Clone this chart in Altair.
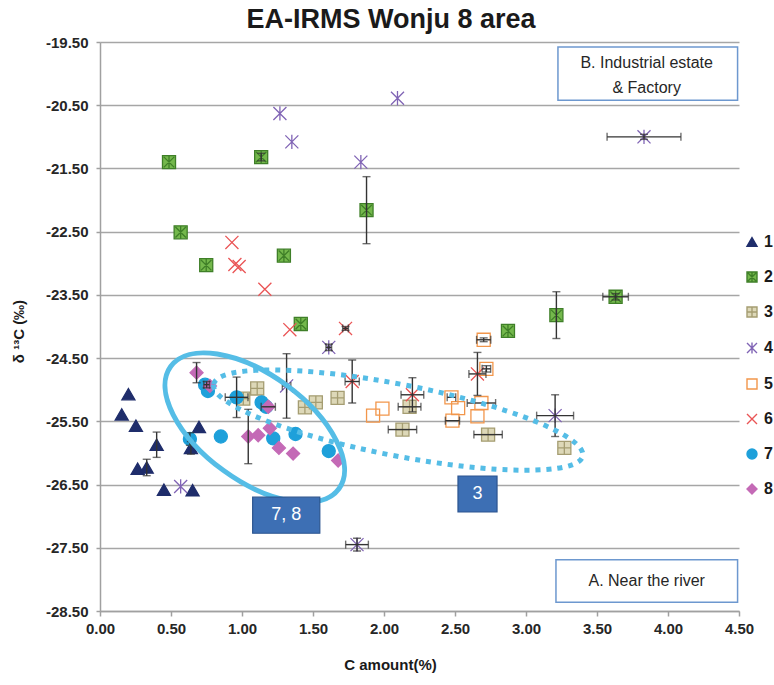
import altair as alt
import pandas as pd

# ---- measured series: C amount (%) vs delta 13C (permil) ----
s1_x = [0.20, 0.153, 0.253, 0.399, 0.265, 0.329, 0.45, 0.652, 0.697, 0.64]
s1_y = [-25.07, -25.39, -25.57, -25.87, -26.25, -26.23, -26.58, -26.59, -25.59, -25.92]
s2_x = [0.486, 1.135, 0.568, 0.748, 1.295, 1.877, 1.414, 2.873, 3.214, 3.631]
s2_y = [-21.40, -21.32, -22.51, -23.03, -22.88, -22.16, -23.96, -24.07, -23.82, -23.53]
s3_x = [1.009, 1.107, 1.443, 1.52, 1.673, 2.13, 2.18, 2.733, 3.27]
s3_y = [-25.14, -24.98, -25.28, -25.20, -25.13, -25.63, -25.27, -25.71, -25.92]
s4_x = [1.267, 1.351, 1.837, 2.095, 3.831, 3.205, 1.81, 0.568, 1.611, 1.314]
s4_y = [-20.63, -21.08, -21.40, -20.39, -21.00, -25.41, -27.45, -26.53, -24.33, -24.94]
s5_x = [2.702, 2.721, 2.475, 2.522, 2.482, 2.686, 2.658, 1.923, 1.989]
s5_y = [-24.21, -24.67, -25.12, -25.29, -25.49, -25.21, -25.42, -25.41, -25.30]
s6_x = [0.929, 0.95, 0.98, 1.161, 1.337, 1.729, 1.776, 2.20, 2.658]
s6_y = [-22.67, -23.02, -23.05, -23.41, -24.05, -24.03, -24.87, -25.08, -24.75]
s7_x = [0.633, 0.74, 0.76, 0.851, 0.962, 1.138, 1.17, 1.22, 1.377, 1.611]
s7_y = [-25.78, -24.92, -25.02, -25.74, -25.12, -25.20, -25.27, -25.77, -25.70, -25.97]
s8_x = [0.68, 0.774, 1.044, 1.114, 1.185, 1.196, 1.26, 1.36, 1.677]
s8_y = [-24.73, -24.94, -25.74, -25.72, -25.27, -25.61, -25.92, -26.01, -26.12]

series_names = ["1", "2", "3", "4", "5", "6", "7", "8"]

# ---- error bars (half widths) ----
err_x = [1.877, 3.214, 3.631, 1.135, 3.831, 3.205, 1.81, 1.314, 1.611, 1.776,
         2.20, 2.658, 1.729, 2.702, 2.721, 2.475, 2.482, 2.13, 2.733, 2.18,
         0.399, 0.329, 0.64, 0.962, 1.044, 1.185, 0.633, 0.68, 0.751, 2.686]
err_y = [-22.16, -23.82, -23.53, -21.32, -21.00, -25.41, -27.45, -24.94, -24.33, -24.87,
         -25.08, -24.75, -24.03, -24.21, -24.67, -25.12, -25.49, -25.63, -25.71, -25.27,
         -25.87, -26.23, -25.92, -25.12, -25.74, -25.27, -25.78, -24.73, -24.92, -25.21]
err_dx = [0, 0, 0.09, 0, 0.26, 0.13, 0.08, 0.03, 0.02, 0.05,
          0.08, 0.06, 0.02, 0.05, 0.03, 0.03, 0.05, 0.10, 0.10, 0.08,
          0, 0, 0, 0.08, 0, 0.05, 0, 0, 0.02, 0.10]
err_dy = [0.53, 0.37, 0.05, 0.06, 0.04, 0.33, 0.10, 0.51, 0.05, 0.34,
          0.27, 0.34, 0.03, 0.03, 0.05, 0, 0, 0, 0, 0,
          0.20, 0.13, 0.10, 0.32, 0.43, 0, 0.10, 0.16, 0.05, 0]

xs = [s1_x, s2_x, s3_x, s4_x, s5_x, s6_x, s7_x, s8_x]
ys = [s1_y, s2_y, s3_y, s4_y, s5_y, s6_y, s7_y, s8_y]
rows = []
for name, sx, sy in zip(series_names, xs, ys):
    for a, b in zip(sx, sy):
        rows.append({"series": name, "c": a, "d13c": b})
points = pd.DataFrame(rows)
errors = pd.DataFrame({"c": err_x, "d13c": err_y, "dx": err_dx, "dy": err_dy})

# ---- marker styles ----
sq_star = "M-1,-1L1,-1L1,1L-1,1Z M-0.8,-0.8L0.8,0.8 M0.8,-0.8L-0.8,0.8 M0,-0.9L0,0.9"
sq_plus = "M-1,-1L1,-1L1,1L-1,1Z M0,-1L0,1 M-1,0L1,0"
asterisk = "M-1,-1L1,1 M1,-1L-1,1 M0,-1.1L0,1.1"
cross = "M-1,-1L1,1 M1,-1L-1,1"
shapes = ["triangle-up", sq_star, sq_plus, asterisk, "square", cross, "circle", "diamond"]
fills = ["#1f2d6b", "#74b84c", "#ddd8b8", "transparent", "transparent", "transparent",
         "#1ea0da", "#c46ab6"]
strokes = ["#1f2d6b", "#3f7f28", "#a59d72", "#8064b5", "#f2964b", "#ea5455",
           "#1ea0da", "#c46ab6"]

X = alt.X("c:Q", scale=alt.Scale(domain=[0, 4.5], nice=False, zero=False),
          axis=alt.Axis(values=[0, 0.5, 1, 1.5, 2, 2.5, 3, 3.5, 4, 4.5], format=".2f",
                        grid=False, tickSize=5, labelPadding=5, labelFlush=False,
                        title="C amount(%)", titleX=290, titleY=58,
                        titleBaseline="alphabetic"))
Y = alt.Y("d13c:Q", scale=alt.Scale(domain=[-28.5, -19.5], nice=False, zero=False),
          axis=alt.Axis(values=[-19.5, -20.5, -21.5, -22.5, -23.5, -24.5, -25.5, -26.5,
                                -27.5, -28.5],
                        labelExpr="replace(format(datum.value, '.2f'), '\u2212', '-')",
                        grid=True, tickSize=4, labelPadding=8, labelFlush=False,
                        title="\u03b4 \u00b9\u00b3C (\u2030)", titleX=-82, titleY=289,
                        titleAngle=270, titleBaseline="middle", titleAlign="center"))

markers = alt.Chart(points).mark_point(opacity=1, strokeWidth=1.3, size=170).encode(
    x=X, y=Y,
    shape=alt.Shape("series:N", scale=alt.Scale(domain=series_names, range=shapes), title=None),
    fill=alt.Fill("series:N", scale=alt.Scale(domain=series_names, range=fills), title=None),
    stroke=alt.Stroke("series:N", scale=alt.Scale(domain=series_names, range=strokes), title=None),
)

# error bars with caps
ebase = alt.Chart(errors).transform_calculate(
    xl="datum.c - datum.dx", xh="datum.c + datum.dx",
    yl="datum.d13c - datum.dy", yh="datum.d13c + datum.dy")
vbar = ebase.transform_filter("datum.dy > 0").mark_rule(color="#333333", strokeWidth=1.4).encode(
    x="c:Q", y="yl:Q", y2="yh:Q")
vcap_lo = ebase.transform_filter("datum.dy > 0").mark_tick(
    color="#333333", orient="horizontal", size=8, thickness=1.4).encode(x="c:Q", y="yl:Q")
vcap_hi = ebase.transform_filter("datum.dy > 0").mark_tick(
    color="#333333", orient="horizontal", size=8, thickness=1.4).encode(x="c:Q", y="yh:Q")
hbar = ebase.transform_filter("datum.dx > 0").mark_rule(color="#333333", strokeWidth=1.4).encode(
    x="xl:Q", x2="xh:Q", y="d13c:Q")
hcap_lo = ebase.transform_filter("datum.dx > 0").mark_tick(
    color="#333333", orient="vertical", size=8, thickness=1.4).encode(x="xl:Q", y="d13c:Q")
hcap_hi = ebase.transform_filter("datum.dx > 0").mark_tick(
    color="#333333", orient="vertical", size=8, thickness=1.4).encode(x="xh:Q", y="d13c:Q")


def ellipse_path(r):
    k = 0.5523
    return (f"M-1,0 C-1,{-r*k:.4f} {-k:.4f},{-r:.4f} 0,{-r:.4f} "
            f"C{k:.4f},{-r:.4f} 1,{-r*k:.4f} 1,0 "
            f"C1,{r*k:.4f} {k:.4f},{r:.4f} 0,{r:.4f} "
            f"C{-k:.4f},{r:.4f} -1,{r*k:.4f} -1,0 Z")


# grouping outlines
group78 = alt.Chart(pd.DataFrame({"c": [1.09], "d13c": [-25.60]})).mark_point(
    shape=ellipse_path(0.51), size=208 ** 2, angle=36, filled=False, opacity=1,
    stroke="#55bde6", strokeWidth=5).encode(x="c:Q", y="d13c:Q")
group3 = alt.Chart(pd.DataFrame({"c": [2.10], "d13c": [-25.48]})).mark_point(
    shape=ellipse_path(0.19), size=376 ** 2, angle=11, filled=False, opacity=1,
    stroke="#55bde6", strokeWidth=5, strokeDash=[5, 6]).encode(x="c:Q", y="d13c:Q")

# label tags for the groups
tags = pd.DataFrame({
    "x1": [1.075, 2.521], "x2": [1.548, 2.796],
    "y1": [-26.70, -26.365], "y2": [-27.27, -26.934],
    "cx": [1.311, 2.658], "cy": [-26.985, -26.65], "label": ["7, 8", "3"]})
tag_box = alt.Chart(tags).mark_rect(fill="#3d6fb4", stroke="#2c5590", strokeWidth=1.2).encode(
    x="x1:Q", x2="x2:Q", y="y1:Q", y2="y2:Q")
tag_text = alt.Chart(tags).mark_text(color="white", fontSize=18, font="Liberation Sans",
                                     baseline="middle").encode(x="cx:Q", y="cy:Q", text="label:N")

# area boxes
areas = pd.DataFrame({"x1": [3.225, 3.211], "x2": [4.49, 4.49],
                      "y1": [-19.58, -27.69], "y2": [-20.42, -28.36]})
area_box = alt.Chart(areas).mark_rect(fill="white", stroke="#6d98cf", strokeWidth=1.5).encode(
    x="x1:Q", x2="x2:Q", y="y1:Q", y2="y2:Q")
area_lbl = pd.DataFrame({"cx": [3.85, 3.85, 3.85], "cy": [-19.83, -20.23, -28.025],
                         "label": ["B. Industrial  estate", "& Factory", "A. Near the river"]})
area_text = alt.Chart(area_lbl).mark_text(color="#262626", fontSize=16, font="Liberation Sans",
                                          baseline="middle").encode(
    x="cx:Q", y="cy:Q", text="label:N")

# chart heading, placed above the plot area
heading = alt.Chart(pd.DataFrame({"t": ["EA-IRMS Wonju 8 area"]})).mark_text(
    fontSize=27, font="Liberation Sans", fontWeight="bold", color="#1a1a1a",
    align="center", baseline="alphabetic").encode(
    x=alt.value(291), y=alt.value(-14), text="t:N")

chart = alt.layer(
    markers, vbar, vcap_lo, vcap_hi, hbar, hcap_lo, hcap_hi,
    group78, group3, tag_box, tag_text, area_box, area_text, heading
).properties(
    width=639, height=569,
    autosize=alt.AutoSizeParams(type="none"),
    padding={"left": 100, "top": 42, "right": 35, "bottom": 74},
).configure_view(stroke=None).configure_axis(
    domainColor="#a0a0a0", tickColor="#a0a0a0", gridColor="#a6a6a6", gridWidth=1.5,
    domainWidth=1.5, tickWidth=1.5,
    labelFont="Liberation Sans", labelFontSize=15, labelFontWeight="bold", labelColor="#262626",
    titleFont="Liberation Sans", titleFontSize=15, titleFontWeight="bold", titleColor="#1a1a1a",
).configure_legend(
    orient="none", legendX=644, legendY=192, labelFont="Liberation Sans", labelFontSize=16,
    labelFontWeight="bold", labelColor="#1a1a1a", symbolSize=100, rowPadding=19,
    symbolStrokeWidth=1.4, labelOffset=4,
)

chart.save("out.html", embed_options={"renderer": "svg", "actions": False})
